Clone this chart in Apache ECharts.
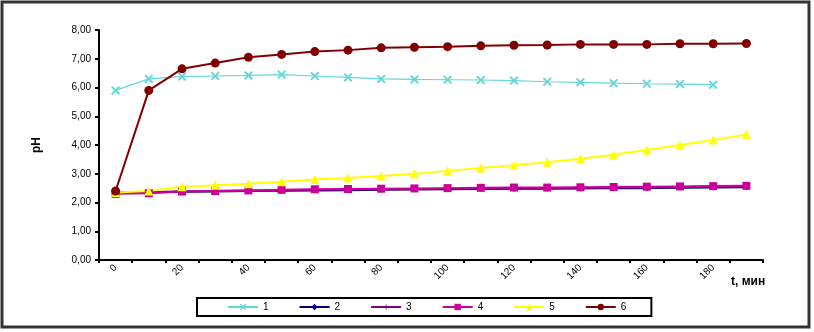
<!DOCTYPE html>
<html><head><meta charset="utf-8">
<script src="https://cdn.jsdelivr.net/npm/echarts@6/dist/echarts.min.js"></script>
<style>html,body{margin:0;padding:0;background:#fff}#c{width:814px;height:332px}</style>
</head><body><div id="c"></div>
<script>
const categories = ['0','10','20','30','40','50','60','70','80','90','100','110','120','130','140','150','160','170','180','190'];
const yTicks = ['0,00','1,00','2,00','3,00','4,00','5,00','6,00','7,00','8,00'];
const s1 = [5.9,6.3,6.38,6.4,6.42,6.45,6.4,6.35,6.3,6.28,6.27,6.26,6.24,6.2,6.18,6.15,6.13,6.12,6.1];
const s2 = [2.35,2.35,2.37,2.38,2.4,2.41,2.42,2.43,2.44,2.45,2.46,2.47,2.48,2.48,2.49,2.5,2.5,2.51,2.52,2.53];
const s3 = [2.36,2.36,2.39,2.4,2.42,2.43,2.44,2.45,2.46,2.47,2.48,2.49,2.5,2.5,2.51,2.52,2.53,2.54,2.55,2.56];
const s4 = [2.3,2.32,2.38,2.4,2.42,2.44,2.46,2.47,2.48,2.49,2.5,2.51,2.52,2.52,2.53,2.54,2.55,2.56,2.57,2.58];
const s5 = [2.35,2.4,2.55,2.6,2.65,2.72,2.8,2.85,2.92,3.0,3.1,3.2,3.3,3.4,3.52,3.66,3.83,4.0,4.17,4.37];
const s6 = [2.4,5.9,6.65,6.85,7.05,7.15,7.25,7.3,7.38,7.4,7.42,7.45,7.47,7.48,7.5,7.5,7.5,7.52,7.52,7.53];
const names = ['1','2','3','4','5','6'];

const font = 'Liberation Sans, Arial, sans-serif';
const chart = echarts.init(document.getElementById('c'));
function ser(name, data, color, symbol, size, width) {
  return {name, type:'line', data, symbol, symbolSize:size, showSymbol:true,
    lineStyle:{color, width}, itemStyle:{color}, animation:false};
}
chart.setOption({
  backgroundColor:'#fff',
  animation:false,
  grid:{left:99, right:51, top:30, bottom:72},
  graphic:[
    {type:'rect', shape:{x:2, y:2, width:807, height:325}, style:{fill:'none', stroke:'#333', lineWidth:3}, silent:true},
    {type:'text', left:731, top:276, style:{text:'t, мин', font:'bold 12px '+font, fill:'#000'}}
  ],
  legend:{data:names, left:197, top:298, orient:'horizontal', itemWidth:30, itemHeight:8, itemGap:30,
    padding:[4,25,4,30], borderColor:'#000', borderWidth:2, backgroundColor:'#fff',
    textStyle:{fontFamily:font, fontSize:10, color:'#000'}},
  xAxis:{type:'category', data:categories, boundaryGap:true,
    axisLine:{lineStyle:{color:'#000', width:2}},
    axisTick:{show:true, interval:0, length:3, lineStyle:{color:'#000', width:2}},
    axisLabel:{interval:1, rotate:45, fontFamily:font, fontSize:10, color:'#000', margin:6},
    splitLine:{show:false}},
  yAxis:{type:'value', min:0, max:8, interval:1, name:'pH', nameLocation:'middle', nameGap:56,
    nameTextStyle:{fontFamily:font, fontSize:12, fontWeight:'bold', color:'#000'},
    axisLine:{show:true, lineStyle:{color:'#000', width:2}},
    axisTick:{show:true, length:4, lineStyle:{color:'#000', width:2}},
    axisLabel:{fontFamily:font, fontSize:10, color:'#000', formatter:(v)=>yTicks[Math.round(v)]},
    splitLine:{show:false}},
  series:[
    ser('1', s1, '#66d6d6', 'path://M0,1.5L1.5,0L5,3.5L8.5,0L10,1.5L6.5,5L10,8.5L8.5,10L5,6.5L1.5,10L0,8.5L3.5,5Z', 9, 1.2),
    ser('2', s2, '#000080', 'diamond', 6, 2),
    ser('3', s3, '#800080', 'path://M5,0L6,4L10,5L6,6L5,10L4,6L0,5L4,4Z', 7, 2),
    ser('4', s4, '#cc0099', 'rect', 8, 2),
    ser('5', s5, '#ffff00', 'triangle', 9, 2),
    ser('6', s6, '#800000', 'circle', 9, 2)
  ]
});
</script></body></html>
